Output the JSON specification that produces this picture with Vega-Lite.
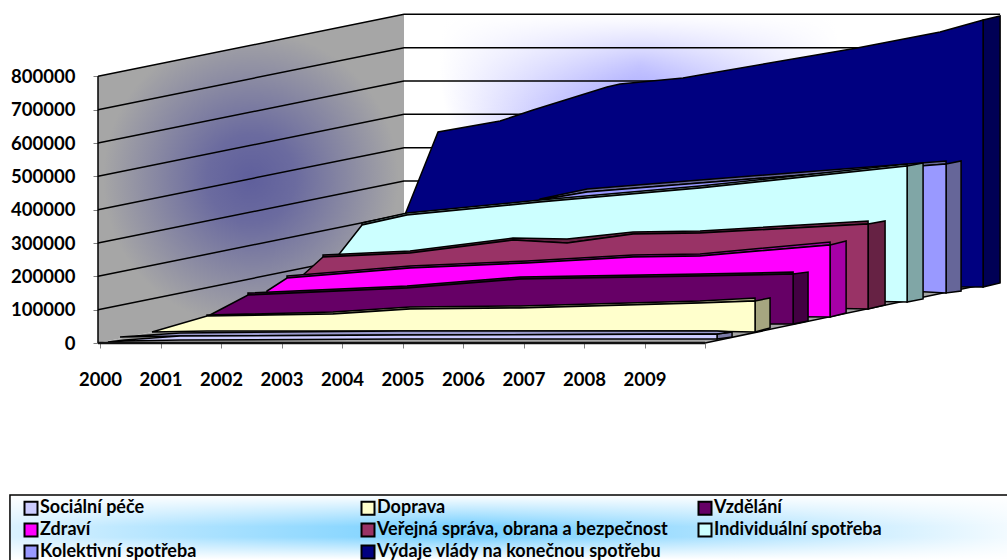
{"$schema":"https://vega.github.io/schema/vega-lite/v6.json","width":909,"height":343,"padding":{"left":98,"top":0,"right":0,"bottom":217},"autosize":{"type":"none"},"background":"white","config":{"view":{"stroke":null},"font":"Lato"},
"datasets":{
"levaStena":[{"rok":1999.967,"horni":800000,"dolni":0},{"rok":2005.025,"horni":986000,"dolni":186000}],
"zadniStena":[{"rok":2005.025,"horni":986000,"dolni":186000},{"rok":2014.876,"horni":986000,"dolni":186000}],
"podlaha":[{"rok":1999.967,"horni":0,"dolni":0},{"rok":2005.025,"horni":186000,"dolni":0},{"rok":2010,"horni":186000,"dolni":0},{"rok":2014.876,"horni":186000,"dolni":186000}],
"mrizka":[
{"uroven":"800000","rok":1999.967,"horni":800000},{"uroven":"800000","rok":2005.025,"horni":986000},{"uroven":"800000","rok":2014.876,"horni":986000},
{"uroven":"700000","rok":1999.967,"horni":700000},{"uroven":"700000","rok":2005.025,"horni":886000},{"uroven":"700000","rok":2014.876,"horni":886000},
{"uroven":"600000","rok":1999.967,"horni":600000},{"uroven":"600000","rok":2005.025,"horni":786000},{"uroven":"600000","rok":2014.876,"horni":786000},
{"uroven":"500000","rok":1999.967,"horni":500000},{"uroven":"500000","rok":2005.025,"horni":686000},{"uroven":"500000","rok":2014.876,"horni":686000},
{"uroven":"400000","rok":1999.967,"horni":400000},{"uroven":"400000","rok":2005.025,"horni":586000},{"uroven":"400000","rok":2014.876,"horni":586000},
{"uroven":"300000","rok":1999.967,"horni":300000},{"uroven":"300000","rok":2005.025,"horni":486000},{"uroven":"300000","rok":2014.876,"horni":486000},
{"uroven":"200000","rok":1999.967,"horni":200000},{"uroven":"200000","rok":2005.025,"horni":386000},{"uroven":"200000","rok":2014.876,"horni":386000},
{"uroven":"100000","rok":1999.967,"horni":100000},{"uroven":"100000","rok":2005.025,"horni":286000},{"uroven":"100000","rok":2014.876,"horni":286000},
{"uroven":"osa y","rok":1999.967,"horni":0},{"uroven":"osa y","rok":1999.967,"horni":800000},
{"uroven":"bok podlahy","rok":2010,"horni":0},{"uroven":"bok podlahy","rok":2014.876,"horni":186000}],
"hrana":[{"rok":1999.967,"horni":0},{"rok":2010,"horni":0}],
"ramLegendy":[{"rok":1998.512,"horni":-456000,"dolni":-666000},{"rok":2015.04,"horni":-456000,"dolni":-666000}],
"plochy":[
{"plocha":"Výdaje – bok","rok":2014.595,"horni":969000,"dolni":168000},{"plocha":"Výdaje – bok","rok":2014.876,"horni":981000,"dolni":180000},
{"plocha":"Výdaje vlády na konečnou spotřebu","rok":2004.628,"horni":198000,"dolni":198000},{"plocha":"Výdaje vlády na konečnou spotřebu","rok":2005.587,"horni":633000,"dolni":195000},{"plocha":"Výdaje vlády na konečnou spotřebu","rok":2006.612,"horni":666000,"dolni":192000},{"plocha":"Výdaje vlády na konečnou spotřebu","rok":2007.157,"horni":699000,"dolni":189000},{"plocha":"Výdaje vlády na konečnou spotřebu","rok":2008.38,"horni":768000,"dolni":186000},{"plocha":"Výdaje vlády na konečnou spotřebu","rok":2008.595,"horni":777000,"dolni":186000},{"plocha":"Výdaje vlády na konečnou spotřebu","rok":2009.636,"horni":795000,"dolni":180000},{"plocha":"Výdaje vlády na konečnou spotřebu","rok":2009.917,"horni":804000,"dolni":180000},{"plocha":"Výdaje vlády na konečnou spotřebu","rok":2012.512,"horni":885000,"dolni":171000},{"plocha":"Výdaje vlády na konečnou spotřebu","rok":2013.884,"horni":933000,"dolni":168000},{"plocha":"Výdaje vlády na konečnou spotřebu","rok":2014.595,"horni":969000,"dolni":168000},
{"plocha":"Kolektivní – bok","rok":2013.983,"horni":537000,"dolni":150000},{"plocha":"Kolektivní – bok","rok":2014.231,"horni":546000,"dolni":156000},
{"plocha":"Kolektivní – horní","rok":2007.273,"horni":432000,"dolni":429000},{"plocha":"Kolektivní – horní","rok":2008.05,"horni":462000,"dolni":453000},{"plocha":"Kolektivní – horní","rok":2009.917,"horni":489000,"dolni":480000},{"plocha":"Kolektivní – horní","rok":2013.983,"horni":546000,"dolni":537000},
{"plocha":"Kolektivní spotřeba","rok":2006.942,"horni":408000,"dolni":219000},{"plocha":"Kolektivní spotřeba","rok":2007.273,"horni":429000,"dolni":216000},{"plocha":"Kolektivní spotřeba","rok":2008.05,"horni":453000,"dolni":207000},{"plocha":"Kolektivní spotřeba","rok":2009.917,"horni":480000,"dolni":189000},{"plocha":"Kolektivní spotřeba","rok":2013.983,"horni":537000,"dolni":150000},
{"plocha":"Individuální – bok","rok":2013.339,"horni":531000,"dolni":123000},{"plocha":"Individuální – bok","rok":2013.603,"horni":540000,"dolni":132000},
{"plocha":"Individuální – horní","rok":2004.331,"horni":360000,"dolni":354000},{"plocha":"Individuální – horní","rok":2005.074,"horni":390000,"dolni":384000},{"plocha":"Individuální – horní","rok":2007.273,"horni":429000,"dolni":423000},{"plocha":"Individuální – horní","rok":2009.917,"horni":471000,"dolni":465000},{"plocha":"Individuální – horní","rok":2013.339,"horni":537000,"dolni":531000},
{"plocha":"Individuální spotřeba","rok":2003.719,"horni":213000,"dolni":159000},{"plocha":"Individuální spotřeba","rok":2003.967,"horni":270000,"dolni":159000},{"plocha":"Individuální spotřeba","rok":2004.331,"horni":354000,"dolni":156000},{"plocha":"Individuální spotřeba","rok":2005.074,"horni":384000,"dolni":150000},{"plocha":"Individuální spotřeba","rok":2007.273,"horni":423000,"dolni":144000},{"plocha":"Individuální spotřeba","rok":2009.917,"horni":465000,"dolni":135000},{"plocha":"Individuální spotřeba","rok":2013.339,"horni":531000,"dolni":123000},
{"plocha":"Veřejná – bok","rok":2012.694,"horni":357000,"dolni":102000},{"plocha":"Veřejná – bok","rok":2012.975,"horni":366000,"dolni":114000},
{"plocha":"Veřejná – horní","rok":2003.686,"horni":264000,"dolni":258000},{"plocha":"Veřejná – horní","rok":2005.124,"horni":276000,"dolni":270000},{"plocha":"Veřejná – horní","rok":2006.826,"horni":315000,"dolni":309000},{"plocha":"Veřejná – horní","rok":2007.719,"horni":312000,"dolni":300000},{"plocha":"Veřejná – horní","rok":2008.81,"horni":333000,"dolni":327000},{"plocha":"Veřejná – horní","rok":2009.917,"horni":336000,"dolni":330000},{"plocha":"Veřejná – horní","rok":2012.694,"horni":366000,"dolni":357000},
{"plocha":"Veřejná správa, obrana a bezpečnost","rok":2003.355,"horni":204000,"dolni":129000},{"plocha":"Veřejná správa, obrana a bezpečnost","rok":2003.686,"horni":258000,"dolni":129000},{"plocha":"Veřejná správa, obrana a bezpečnost","rok":2005.124,"horni":270000,"dolni":126000},{"plocha":"Veřejná správa, obrana a bezpečnost","rok":2006.826,"horni":309000,"dolni":120000},{"plocha":"Veřejná správa, obrana a bezpečnost","rok":2007.719,"horni":300000,"dolni":117000},{"plocha":"Veřejná správa, obrana a bezpečnost","rok":2008.81,"horni":327000,"dolni":114000},{"plocha":"Veřejná správa, obrana a bezpečnost","rok":2009.917,"horni":330000,"dolni":111000},{"plocha":"Veřejná správa, obrana a bezpečnost","rok":2012.694,"horni":357000,"dolni":102000},
{"plocha":"Zdraví – bok","rok":2012.066,"horni":294000,"dolni":78000},{"plocha":"Zdraví – bok","rok":2012.331,"horni":306000,"dolni":90000},
{"plocha":"Zdraví – horní","rok":2003.091,"horni":201000,"dolni":195000},{"plocha":"Zdraví – horní","rok":2005.124,"horni":231000,"dolni":225000},{"plocha":"Zdraví – horní","rok":2007.058,"horni":246000,"dolni":240000},{"plocha":"Zdraví – horní","rok":2008.81,"horni":264000,"dolni":258000},{"plocha":"Zdraví – horní","rok":2009.917,"horni":267000,"dolni":261000},{"plocha":"Zdraví – horní","rok":2012.066,"horni":303000,"dolni":294000},
{"plocha":"Zdraví","rok":2002.76,"horni":156000,"dolni":93000},{"plocha":"Zdraví","rok":2003.091,"horni":195000,"dolni":93000},{"plocha":"Zdraví","rok":2005.124,"horni":225000,"dolni":90000},{"plocha":"Zdraví","rok":2007.058,"horni":240000,"dolni":87000},{"plocha":"Zdraví","rok":2008.81,"horni":258000,"dolni":84000},{"plocha":"Zdraví","rok":2009.917,"horni":261000,"dolni":81000},{"plocha":"Zdraví","rok":2012.066,"horni":294000,"dolni":78000},
{"plocha":"Vzdělání – bok","rok":2011.455,"horni":207000,"dolni":57000},{"plocha":"Vzdělání – bok","rok":2011.702,"horni":213000,"dolni":66000},
{"plocha":"Vzdělání – horní","rok":2002.446,"horni":150000,"dolni":144000},{"plocha":"Vzdělání – horní","rok":2005.074,"horni":171000,"dolni":165000},{"plocha":"Vzdělání – horní","rok":2006.942,"horni":198000,"dolni":192000},{"plocha":"Vzdělání – horní","rok":2009.917,"horni":207000,"dolni":201000},{"plocha":"Vzdělání – horní","rok":2011.455,"horni":213000,"dolni":207000},
{"plocha":"Vzdělání","rok":2001.818,"horni":84000,"dolni":57000},{"plocha":"Vzdělání","rok":2002.446,"horni":144000,"dolni":57000},{"plocha":"Vzdělání","rok":2005.074,"horni":165000,"dolni":57000},{"plocha":"Vzdělání","rok":2006.942,"horni":192000,"dolni":57000},{"plocha":"Vzdělání","rok":2009.917,"horni":201000,"dolni":57000},{"plocha":"Vzdělání","rok":2011.455,"horni":207000,"dolni":57000},
{"plocha":"Doprava – bok","rok":2010.826,"horni":126000,"dolni":33000},{"plocha":"Doprava – bok","rok":2011.074,"horni":135000,"dolni":45000},
{"plocha":"Doprava – horní","rok":2001.769,"horni":84000,"dolni":81000},{"plocha":"Doprava – horní","rok":2003.851,"horni":93000,"dolni":87000},{"plocha":"Doprava – horní","rok":2005.124,"horni":108000,"dolni":102000},{"plocha":"Doprava – horní","rok":2006.942,"horni":111000,"dolni":105000},{"plocha":"Doprava – horní","rok":2009.917,"horni":126000,"dolni":120000},{"plocha":"Doprava – horní","rok":2010.826,"horni":135000,"dolni":126000},
{"plocha":"Doprava","rok":2000.86,"horni":33000,"dolni":33000},{"plocha":"Doprava","rok":2001.769,"horni":81000,"dolni":36000},{"plocha":"Doprava","rok":2003.851,"horni":87000,"dolni":36000},{"plocha":"Doprava","rok":2005.124,"horni":102000,"dolni":36000},{"plocha":"Doprava","rok":2006.942,"horni":105000,"dolni":36000},{"plocha":"Doprava","rok":2009.917,"horni":120000,"dolni":36000},{"plocha":"Doprava","rok":2010.826,"horni":126000,"dolni":33000},
{"plocha":"Sociální – bok","rok":2010.198,"horni":27000,"dolni":12000},{"plocha":"Sociální – bok","rok":2010.446,"horni":33000,"dolni":18000},
{"plocha":"Sociální – horní","rok":2000.331,"horni":18000,"dolni":18000},{"plocha":"Sociální – horní","rok":2001.322,"horni":30000,"dolni":21000},{"plocha":"Sociální – horní","rok":2004.959,"horni":36000,"dolni":24000},{"plocha":"Sociální – horní","rok":2010.198,"horni":36000,"dolni":27000},{"plocha":"Sociální – horní","rok":2010.446,"horni":33000,"dolni":33000},
{"plocha":"Sociální péče","rok":2000.132,"horni":3000,"dolni":3000},{"plocha":"Sociální péče","rok":2000.413,"horni":9000,"dolni":6000},{"plocha":"Sociální péče","rok":2001.322,"horni":21000,"dolni":9000},{"plocha":"Sociální péče","rok":2004.959,"horni":24000,"dolni":12000},{"plocha":"Sociální péče","rok":2010.198,"horni":27000,"dolni":12000}
]},
"encoding":{
"x":{"field":"rok","type":"quantitative","title":null,"scale":{"domain":[1999.967,2014.99],"nice":false,"zero":false},"axis":{"values":[2000,2001,2002,2003,2004,2005,2006,2007,2008,2009,2010],"labelExpr":"datum.value<2010 ? format(datum.value,'d') : ''","labelFont":"Lato","labelFontWeight":"bold","labelFontSize":18.5,"labelColor":"black","labelPadding":22,"labelOverlap":false,"labelFlush":false,"grid":false,"domain":false,"tickColor":"#808080","tickSize":5,"tickWidth":1}},
"y":{"field":"horni","type":"quantitative","title":null,"scale":{"domain":[0,1029000],"nice":false,"zero":false},"axis":{"values":[0,100000,200000,300000,400000,500000,600000,700000,800000],"format":"d","labelFont":"Lato","labelFontWeight":"bold","labelFontSize":18.5,"labelColor":"black","labelPadding":18,"labelOverlap":false,"grid":false,"domain":false,"tickColor":"#808080","tickSize":5,"tickWidth":1}}},
"layer":[
{"data":{"name":"ramLegendy"},"mark":{"type":"area","clip":false,"fill":{"gradient":"radial","x1":0.45,"y1":0.5,"r1":0,"x2":0.45,"y2":0.5,"r2":0.6,"stops":[{"offset":0,"color":"#74cfff"},{"offset":0.5,"color":"#b5e5ff"},{"offset":1,"color":"#ffffff"}]}},"encoding":{"y2":{"field":"dolni"}}},
{"data":{"name":"ramLegendy"},"mark":{"type":"area","clip":false,"stroke":"black","strokeWidth":1.5,"fill":{"gradient":"linear","x1":0,"y1":0,"x2":0,"y2":1,"stops":[{"offset":0,"color":"rgba(255,255,255,1)"},{"offset":0.45,"color":"rgba(255,255,255,0)"},{"offset":0.6,"color":"rgba(255,255,255,0)"},{"offset":0.92,"color":"rgba(255,255,255,1)"}]}},"encoding":{"y2":{"field":"dolni"}}},
{"data":{"name":"levaStena"},"mark":{"type":"area","fill":{"gradient":"radial","x1":0.5,"y1":0.5,"r1":0,"x2":0.5,"y2":0.5,"r2":0.45,"stops":[{"offset":0,"color":"#5f5f9c"},{"offset":0.3,"color":"#6b6b9f"},{"offset":1,"color":"#a6a6a6"}]}},"encoding":{"y2":{"field":"dolni"}}},
{"data":{"name":"zadniStena"},"mark":{"type":"area","fill":{"gradient":"radial","x1":0.396,"y1":0.36,"r1":0,"x2":0.396,"y2":0.36,"r2":0.336,"stops":[{"offset":0,"color":"#9090ff"},{"offset":1,"color":"#ffffff"}]}},"encoding":{"y2":{"field":"dolni"}}},
{"data":{"name":"zadniStena"},"mark":{"type":"area","fill":{"gradient":"linear","x1":0,"y1":0,"x2":0,"y2":1,"stops":[{"offset":0,"color":"rgba(255,255,255,1)"},{"offset":0.36,"color":"rgba(255,255,255,0)"},{"offset":1,"color":"rgba(255,255,255,0)"}]}},"encoding":{"y2":{"field":"dolni"}}},
{"data":{"name":"podlaha"},"mark":{"type":"area","fill":"#a6a6a6"},"encoding":{"y2":{"field":"dolni"}}},
{"data":{"name":"mrizka"},"mark":{"type":"line","stroke":"black","strokeWidth":1.5,"clip":false},"encoding":{"detail":{"field":"uroven"}}},
{"data":{"name":"plochy"},"mark":{"type":"area","stroke":"black","strokeWidth":1.5,"strokeJoin":"miter"},"encoding":{"y2":{"field":"dolni"},
"color":{"field":"plocha","type":"nominal","sort":null,"scale":{"domain":["Sociální péče","Doprava","Vzdělání","Zdraví","Veřejná správa, obrana a bezpečnost","Individuální spotřeba","Kolektivní spotřeba","Výdaje vlády na konečnou spotřebu","Výdaje – bok","Kolektivní – bok","Kolektivní – horní","Individuální – bok","Individuální – horní","Veřejná – bok","Veřejná – horní","Zdraví – bok","Zdraví – horní","Vzdělání – bok","Vzdělání – horní","Doprava – bok","Doprava – horní","Sociální – bok","Sociální – horní"],"range":["#ccccff","#ffffcc","#660066","#ff00ff","#993366","#ccffff","#9999ff","#000080","#000055","#666699","#666699","#80a6a6","#80a6a6","#662244","#662244","#a600a6","#a600a6","#420042","#420042","#a6a680","#a6a680","#7a7aa6","#9999cc"]},
"legend":{"values":["Sociální péče","Zdraví","Kolektivní spotřeba","Doprava","Veřejná správa, obrana a bezpečnost","Výdaje vlády na konečnou spotřebu","Vzdělání","Individuální spotřeba"],"title":null,"orient":"none","legendX":-76,"legendY":499,"columns":3,"gridAlign":"all","columnPadding":26,"rowPadding":0,"padding":0,"symbolType":"square","symbolSize":169,"symbolStrokeColor":"black","symbolStrokeWidth":2,"symbolOpacity":1,"labelFont":"Lato","labelFontWeight":"bold","labelFontSize":18,"labelColor":"black","labelOffset":0,"labelLimit":400}}}},
{"data":{"name":"hrana"},"mark":{"type":"line","stroke":"#111111","strokeWidth":2.5,"clip":false},"encoding":{}}
]}
